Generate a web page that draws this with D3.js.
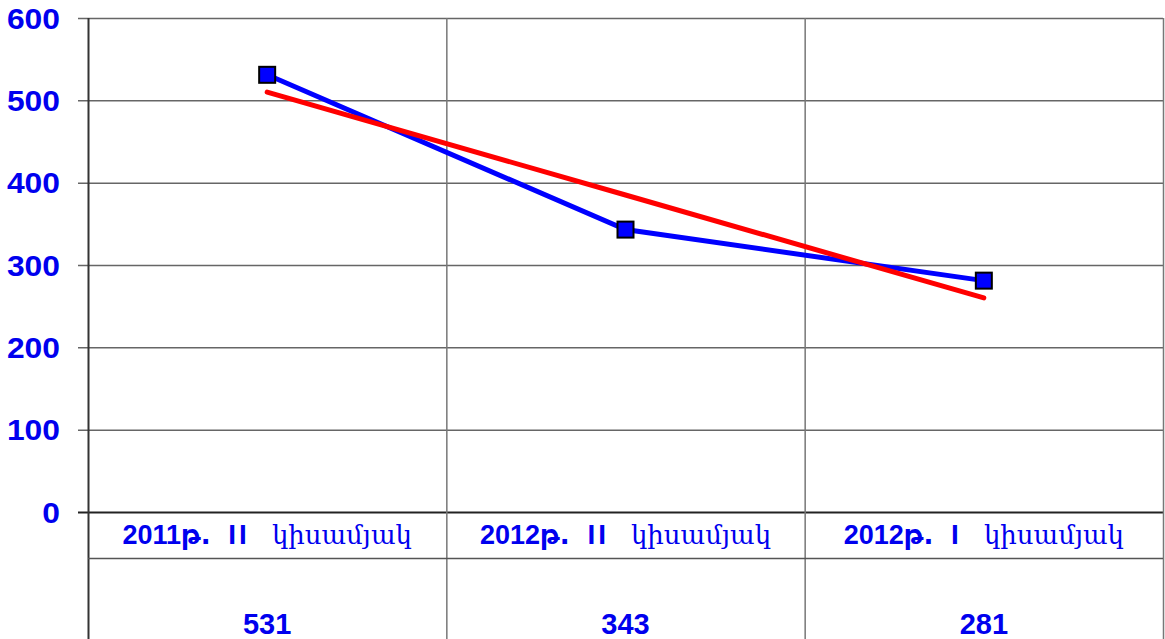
<!DOCTYPE html>
<html><head><meta charset="utf-8">
<script src="https://cdn.jsdelivr.net/npm/d3@7"></script>
<style>body{margin:0;background:#fff}svg{display:block}</style>
</head><body>
<svg id="c" width="1165" height="639"></svg>
<script>
const years = ["2011", "2012", "2012"];
const yearSuffix = ["թ.", "թ.", "թ."];
const halves = ["II", "II", "I"];
const periodWord = ["կիսամյակ", "կիսամյակ", "կիսամյակ"];
const values = [531, 343, 281];
const yTicks = [0, 100, 200, 300, 400, 500, 600];

const svg = d3.select("#c");
const L = 88, R = 1163, T = 18, B = 512;
const idx = values.map((d, i) => i);
const x = d3.scaleBand().domain(idx).range([L, R]).padding(0);
const y = d3.scaleLinear().domain([0, 600]).range([B, T]);
const cx = i => x(i) + x.bandwidth() / 2;

// linear trend
const mx = d3.mean(idx), my = d3.mean(values);
const slope = d3.sum(idx, i => (i - mx) * (values[i] - my)) / d3.sum(idx, i => (i - mx) ** 2);
const trend = idx.map(i => my + slope * (i - mx));

// gridlines
svg.append("g").selectAll("line").data(yTicks).join("line")
  .attr("x1", 78).attr("x2", R)
  .attr("y1", d => y(d) + 0.5).attr("y2", d => y(d) + 0.5)
  .attr("stroke", d => d === 0 ? "#222" : "#666").attr("stroke-width", d => d === 0 ? 2 : 1.5);

// vertical category lines
const vx = [L, ...idx.map(i => x(i) + x.bandwidth())];
svg.append("g").selectAll("line").data(vx).join("line")
  .attr("x1", d => d + 0.5).attr("x2", d => d + 0.5)
  .attr("y1", T).attr("y2", 639)
  .attr("stroke", (d, i) => i === 0 ? "#333" : "#777").attr("stroke-width", (d, i) => i === 0 ? 2 : 1.5);

// table row line
svg.append("line").attr("x1", L).attr("x2", R).attr("y1", 558.5).attr("y2", 558.5)
  .attr("stroke", "#555").attr("stroke-width", 1.5);

// y labels
svg.append("g").selectAll("text").data(yTicks).join("text")
  .attr("transform", d => `translate(60,${y(d)}) scale(1.06,1)`)
  .attr("dy", "0.36em")
  .attr("text-anchor", "end")
  .attr("font-family", "Liberation Sans, Arial, sans-serif").attr("font-weight", "bold")
  .attr("font-size", 30).attr("fill", "#0000ee").text(d => d);

// category labels
const cat = svg.append("g").selectAll("text").data(idx).join("text")
  .attr("x", cx).attr("y", 544).attr("text-anchor", "middle")
  .attr("font-family", "Liberation Sans, Arial, sans-serif")
  .attr("font-size", 27).attr("fill", "#0000ee")
  .attr("xml:space", "preserve");
cat.append("tspan").attr("font-weight", "bold").text(i => years[i]);
cat.append("tspan").attr("font-family", "DejaVu Sans, sans-serif").attr("font-weight", "bold").attr("font-size", 26).text(i => yearSuffix[i]);
cat.append("tspan").attr("dx", 7).attr("font-weight", "bold").attr("font-size", 28).attr("letter-spacing", 3).text(i => " " + halves[i]);
cat.append("tspan").attr("dx", 22).attr("font-family", "DejaVu Serif, serif").attr("font-size", 26).text(i => periodWord[i]);

// table values
svg.append("g").selectAll("text").data(idx).join("text")
  .attr("x", cx).attr("y", 634).attr("text-anchor", "middle")
  .attr("font-family", "Liberation Sans, Arial, sans-serif").attr("font-weight", "bold")
  .attr("font-size", 29).attr("fill", "#0000ee").text(i => values[i]);

// series line
svg.append("path").datum(idx)
  .attr("d", d3.line().x(cx).y(i => y(values[i])))
  .attr("fill", "none").attr("stroke", "#0000ff").attr("stroke-width", 5);

// trend line
svg.append("path").datum(idx)
  .attr("d", d3.line().x(cx).y(i => y(trend[i])))
  .attr("fill", "none").attr("stroke", "#ff0000").attr("stroke-width", 5).attr("stroke-linecap", "round");

// markers
svg.append("g").selectAll("rect").data(idx).join("rect")
  .attr("x", i => cx(i) - 8).attr("y", i => y(values[i]) - 8)
  .attr("width", 16).attr("height", 16)
  .attr("fill", "#0000ff").attr("stroke", "#000").attr("stroke-width", 2);
</script>
</body></html>
